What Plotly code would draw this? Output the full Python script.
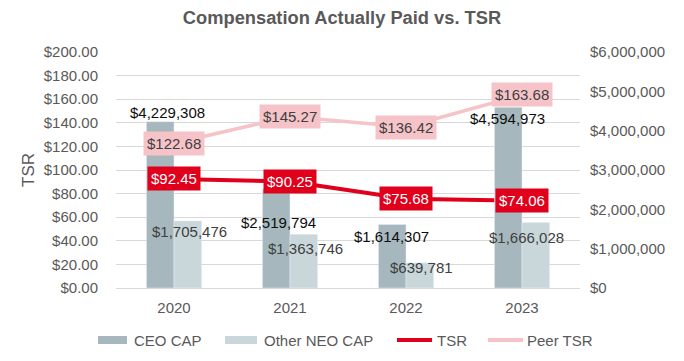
import plotly.graph_objects as go

years = ["2020", "2021", "2022", "2023"]
ceo_cap = [4229308, 2519794, 1614307, 4594973]
neo_cap = [1705476, 1363746, 639781, 1666028]
tsr = [92.45, 90.25, 75.68, 74.06]
peer_tsr = [122.68, 145.27, 136.42, 163.68]
series_names = ["CEO CAP", "Other NEO CAP", "TSR", "Peer TSR"]

C_CEO = "#a6b8bd"
C_NEO = "#c9d7db"
C_TSR = "#e0001b"
C_PEER = "#f6c3c8"
GRAY = "#595959"
FONT = "Liberation Sans, Arial, sans-serif"

# plot-area geometry (px) used to place the hand-made legend
PL, PR, PT, PB = 116, 580, 52, 288
W, H = 684, 361

# label offsets (pixels) for bar data labels
ceo_shift = [(-7, 9), (-12, -34), (-15, -12), (-15, -11)]
neo_shift = [(15, -11), (15, -14), (15, -5), (4, -15)]

fig = go.Figure()
fig.add_trace(go.Bar(x=years, y=ceo_cap, marker_color=C_CEO, yaxis="y2",
                     name=series_names[0], showlegend=False))
fig.add_trace(go.Bar(x=years, y=neo_cap, marker_color=C_NEO, yaxis="y2",
                     name=series_names[1], showlegend=False))
fig.add_trace(go.Scatter(x=years, y=peer_tsr, mode="lines", yaxis="y",
                         line=dict(color=C_PEER, width=3.5), name=series_names[3],
                         showlegend=False))
fig.add_trace(go.Scatter(x=years, y=tsr, mode="lines", yaxis="y",
                         line=dict(color=C_TSR, width=4), name=series_names[2],
                         showlegend=False))

ann = []
for i, yr in enumerate(years):
    ann.append(dict(x=i, y=ceo_cap[i], yref="y2", xref="x",
                    text=f"${ceo_cap[i]:,}", showarrow=False,
                    xshift=ceo_shift[i][0], yshift=ceo_shift[i][1],
                    font=dict(family=FONT, size=15, color="#0d0d0d")))
    ann.append(dict(x=i, y=neo_cap[i], yref="y2", xref="x",
                    text=f"${neo_cap[i]:,}", showarrow=False,
                    xshift=neo_shift[i][0], yshift=neo_shift[i][1],
                    font=dict(family=FONT, size=15, color="#404040")))
    ann.append(dict(x=i, y=peer_tsr[i], yref="y", xref="x",
                    text=f"${peer_tsr[i]:.2f}", showarrow=False,
                    bgcolor=C_PEER, borderpad=3,
                    font=dict(family=FONT, size=15, color="#404040")))
    ann.append(dict(x=i, y=tsr[i], yref="y", xref="x",
                    text=f"${tsr[i]:.2f}", showarrow=False,
                    bgcolor=C_TSR, borderpad=3,
                    font=dict(family=FONT, size=15, color="white")))

# hand-made legend (symbol start px, symbol end px, text start px, kind)
def px(x):
    return (x - PL) / (PR - PL)

def py(y):
    return (PB - y) / (PB - PT)

legend_items = [
    (series_names[0], C_CEO, 98, 127, 132, "bar"),
    (series_names[1], C_NEO, 225, 257, 262, "bar"),
    (series_names[2], C_TSR, 397, 432, 435, "line"),
    (series_names[3], C_PEER, 488, 523, 525, "line"),
]
LEG_Y = 340
shapes = []
for nm, col, x0, x1, xt, kind in legend_items:
    if kind == "bar":
        shapes.append(dict(type="rect", xref="paper", yref="paper",
                           x0=px(x0), x1=px(x1), y0=py(LEG_Y - 4), y1=py(LEG_Y + 4),
                           fillcolor=col, line=dict(width=0)))
    else:
        shapes.append(dict(type="line", xref="paper", yref="paper",
                           x0=px(x0), x1=px(x1), y0=py(LEG_Y), y1=py(LEG_Y),
                           line=dict(color=col, width=4)))
    ann.append(dict(x=px(xt), y=py(LEG_Y), xref="paper", yref="paper",
                    xanchor="left", yanchor="middle", text=nm, showarrow=False,
                    font=dict(family=FONT, size=15, color=GRAY)))

fig.update_layout(
    width=W, height=H,
    margin=dict(l=PL, r=W - PR, t=PT, b=H - PB),
    paper_bgcolor="white", plot_bgcolor="white",
    font=dict(family=FONT, size=15, color=GRAY),
    showlegend=False,
    title=dict(text="<b>Compensation Actually Paid vs. TSR</b>", x=0.5, xanchor="center",
               y=1 - 18 / H, yanchor="middle",
               font=dict(family=FONT, size=18.3, color=GRAY)),
    barmode="group", bargap=0.525, bargroupgap=0,
    xaxis=dict(type="category", range=[-0.5, 3.5], showgrid=False, showline=True,
               linecolor="#d9d9d9", linewidth=1, ticks="outside", ticklen=6,
               tickcolor="rgba(0,0,0,0)", tickfont=dict(size=15, color=GRAY)),
    yaxis=dict(range=[0, 200], dtick=20, tickformat="$,.2f", showgrid=True,
               gridcolor="#d9d9d9", gridwidth=1, zeroline=False,
               ticks="outside", ticklen=14, tickcolor="rgba(0,0,0,0)",
               tickfont=dict(size=15, color=GRAY),
               title=dict(text="TSR", font=dict(size=17, color=GRAY), standoff=4)),
    yaxis2=dict(range=[0, 6000000], dtick=1000000, tickformat="$,.0f",
                overlaying="y", side="right", showgrid=False, zeroline=False,
                ticks="outside", ticklen=6, tickcolor="rgba(0,0,0,0)",
                tickfont=dict(size=15, color=GRAY)),
    annotations=ann,
    shapes=shapes,
)

fig.write_html("out.html", post_script="document.body.style.margin='0';",
               config={"displayModeBar": False})
